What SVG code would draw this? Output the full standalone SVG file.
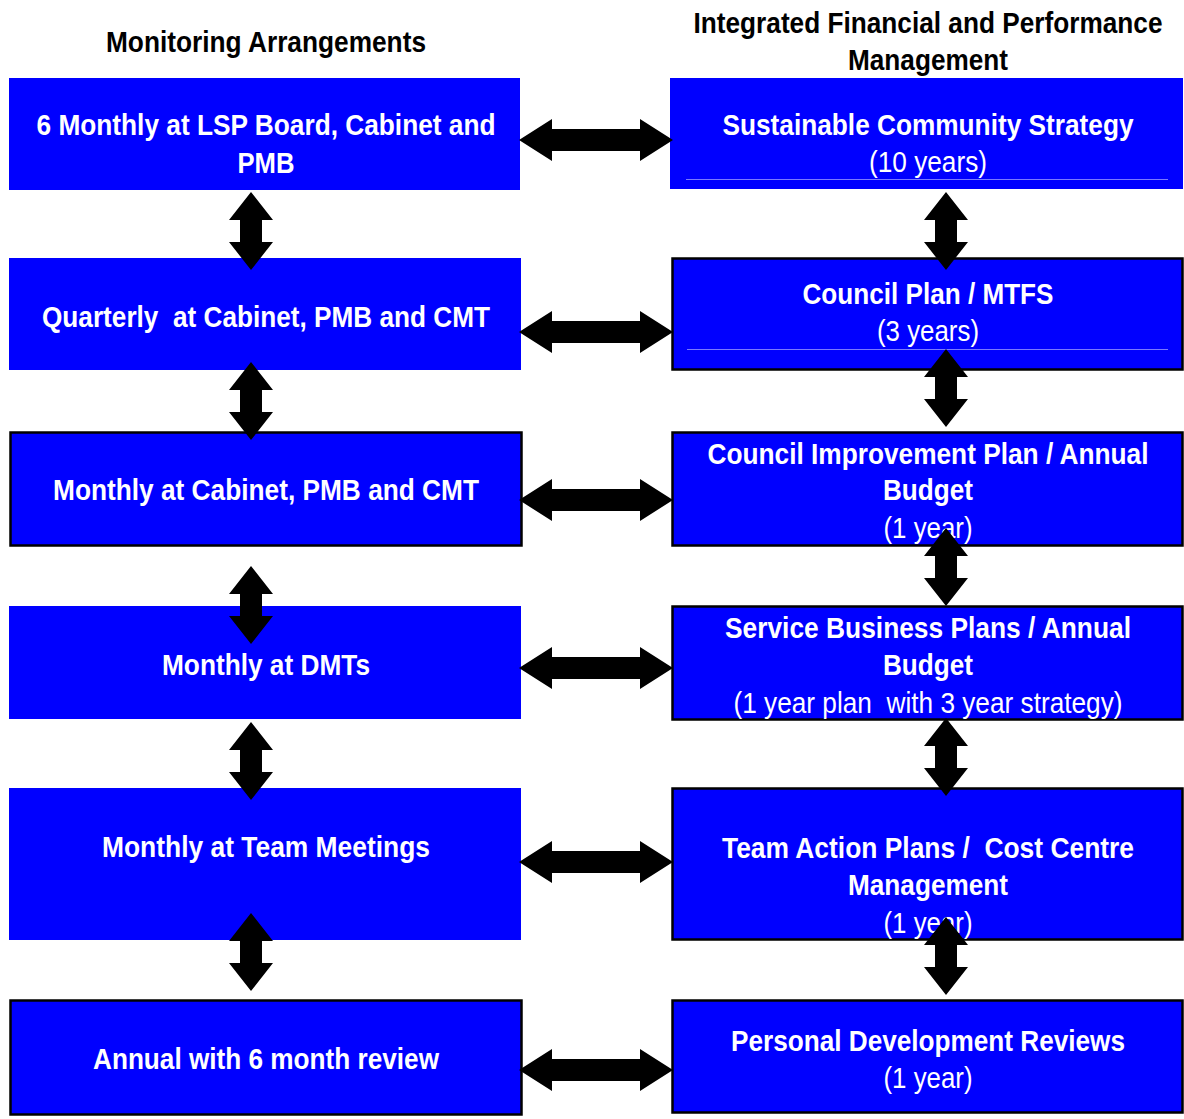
<svg xmlns="http://www.w3.org/2000/svg" xmlns:xlink="http://www.w3.org/1999/xlink" width="1184" height="1119" viewBox="0 0 1184 1119">
<style>
.box{fill:#0000ff;}
.bb{fill:#0000ff;stroke:#000;stroke-width:2.5;}
text{white-space:pre;}
.t{font-family:"Liberation Sans",Arial,sans-serif;font-size:29px;font-weight:bold;fill:#fff;text-anchor:middle;}
.r{font-family:"Liberation Sans",Arial,sans-serif;font-size:29px;fill:#fff;text-anchor:middle;}
.h{font-family:"Liberation Sans",Arial,sans-serif;font-size:29px;font-weight:bold;fill:#000;text-anchor:middle;}
.ln{stroke:#7a7aff;stroke-width:1;}
.arr{fill:#000;}
</style>
<defs>
<path id="va" class="arr" d="M0,0 L22,28 L11,28 L11,50 L22,50 L0,78 L-22,50 L-11,50 L-11,28 L-22,28 Z"/>
<path id="ha" class="arr" d="M0,0 L33,-21 L33,-11 L121,-11 L121,-21 L154,0 L121,21 L121,11 L33,11 L33,21 Z"/>
</defs>
<rect width="1184" height="1119" fill="#fff"/>
<g id="headers">
<text class="h" x="266" y="52" textLength="320" lengthAdjust="spacingAndGlyphs">Monitoring Arrangements</text>
<text class="h" x="928" y="33" textLength="469" lengthAdjust="spacingAndGlyphs">Integrated Financial and Performance</text>
<text class="h" x="928" y="70" textLength="160" lengthAdjust="spacingAndGlyphs">Management</text>
</g>
<g id="left1"><rect class="box" x="9" y="78" width="511" height="112"/>
<text class="t" x="266" y="135" textLength="459" lengthAdjust="spacingAndGlyphs">6 Monthly at LSP Board, Cabinet and</text>
<text class="t" x="266" y="173" textLength="57" lengthAdjust="spacingAndGlyphs">PMB</text></g>
<g id="left2"><rect class="box" x="9" y="258" width="512" height="112"/>
<text class="t" x="266" y="327" textLength="448" lengthAdjust="spacingAndGlyphs" xml:space="preserve">Quarterly  at Cabinet, PMB and CMT</text></g>
<g id="left3"><rect class="bb" x="10.5" y="432.5" width="511" height="113"/>
<text class="t" x="266" y="500" textLength="426" lengthAdjust="spacingAndGlyphs">Monthly at Cabinet, PMB and CMT</text></g>
<g id="left4"><rect class="box" x="9" y="606" width="512" height="113"/>
<text class="t" x="266" y="675" textLength="208" lengthAdjust="spacingAndGlyphs">Monthly at DMTs</text></g>
<g id="left5"><rect class="box" x="9" y="788" width="512" height="152"/>
<text class="t" x="266" y="857" textLength="328" lengthAdjust="spacingAndGlyphs">Monthly at Team Meetings</text></g>
<g id="left6"><rect class="bb" x="10.5" y="1000.5" width="511" height="114"/>
<text class="t" x="266" y="1069" textLength="346" lengthAdjust="spacingAndGlyphs">Annual with 6 month review</text></g>
<g id="right1"><rect class="box" x="670" y="78" width="513" height="111"/>
<line class="ln" x1="686" y1="179.5" x2="1168" y2="179.5"/>
<text class="t" x="928" y="135" textLength="411" lengthAdjust="spacingAndGlyphs">Sustainable Community Strategy</text>
<text class="r" x="928" y="172" textLength="118" lengthAdjust="spacingAndGlyphs">(10 years)</text></g>
<g id="right2"><rect class="bb" x="672.5" y="258.5" width="510" height="111"/>
<line class="ln" x1="687" y1="349.5" x2="1168" y2="349.5"/>
<text class="t" x="928" y="304" textLength="251" lengthAdjust="spacingAndGlyphs">Council Plan / MTFS</text>
<text class="r" x="928" y="341" textLength="102" lengthAdjust="spacingAndGlyphs">(3 years)</text></g>
<g id="right3"><rect class="bb" x="672.5" y="432.5" width="510" height="113"/>
<text class="t" x="928" y="464" textLength="441" lengthAdjust="spacingAndGlyphs">Council Improvement Plan / Annual</text>
<text class="t" x="928" y="500" textLength="90" lengthAdjust="spacingAndGlyphs">Budget</text>
<text class="r" x="928" y="538" textLength="89" lengthAdjust="spacingAndGlyphs">(1 year)</text></g>
<g id="right4"><rect class="bb" x="672.5" y="606.5" width="510" height="113"/>
<text class="t" x="928" y="638" textLength="406" lengthAdjust="spacingAndGlyphs">Service Business Plans / Annual</text>
<text class="t" x="928" y="675" textLength="90" lengthAdjust="spacingAndGlyphs">Budget</text>
<text class="r" x="928" y="713" textLength="389" lengthAdjust="spacingAndGlyphs" xml:space="preserve">(1 year plan  with 3 year strategy)</text></g>
<g id="right5"><rect class="bb" x="672.5" y="788.5" width="510" height="151"/>
<text class="t" x="928" y="858" textLength="412" lengthAdjust="spacingAndGlyphs" xml:space="preserve">Team Action Plans /  Cost Centre</text>
<text class="t" x="928" y="895" textLength="160" lengthAdjust="spacingAndGlyphs">Management</text>
<text class="r" x="928" y="933" textLength="89" lengthAdjust="spacingAndGlyphs">(1 year)</text></g>
<g id="right6"><rect class="bb" x="672.5" y="1000.5" width="510" height="112"/>
<text class="t" x="928" y="1051" textLength="394" lengthAdjust="spacingAndGlyphs">Personal Development Reviews</text>
<text class="r" x="928" y="1088" textLength="89" lengthAdjust="spacingAndGlyphs">(1 year)</text></g>
<g id="connectors">
<use xlink:href="#ha" x="519" y="140"/>
<use xlink:href="#ha" x="519" y="332"/>
<use xlink:href="#ha" x="519" y="500"/>
<use xlink:href="#ha" x="519" y="668"/>
<use xlink:href="#ha" x="519" y="862"/>
<use xlink:href="#ha" x="519" y="1070"/>
<use xlink:href="#va" x="251" y="192"/>
<use xlink:href="#va" x="251" y="362"/>
<use xlink:href="#va" x="251" y="566"/>
<use xlink:href="#va" x="251" y="722"/>
<use xlink:href="#va" x="251" y="913"/>
<use xlink:href="#va" x="946" y="192"/>
<use xlink:href="#va" x="946" y="349"/>
<use xlink:href="#va" x="946" y="528"/>
<use xlink:href="#va" x="946" y="718"/>
<use xlink:href="#va" x="946" y="917"/>
</g>
</svg>
